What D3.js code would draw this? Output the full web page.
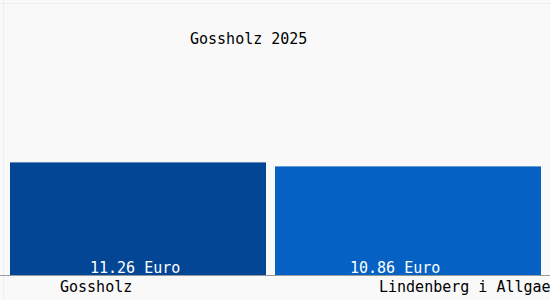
<!DOCTYPE html>
<html>
<head>
<meta charset="utf-8">
<script src="https://cdn.jsdelivr.net/npm/d3@7"></script>
<style>
  html, body { margin: 0; padding: 0; background: #ffffff; }
  svg { display: block; }
  text { font-family: "DejaVu Sans Mono", monospace; font-size: 15px; }
</style>
</head>
<body>
<svg id="chart" width="550" height="300"></svg>
<script>
const title = "Gossholz 2025";
const categories = ["Gossholz", "Lindenberg i Allgae"];
const values = [11.26, 10.86];
const valueLabels = ["11.26 Euro", "10.86 Euro"];
const colors = ["#044696", "#0561c4"];

const W = 550, H = 300;
const svg = d3.select("#chart");

svg.append("rect").attr("x", 0).attr("y", 0).attr("width", W).attr("height", H).attr("fill", "#f9f9f9");
svg.append("line").attr("x1", 3.5).attr("x2", 3.5).attr("y1", 0).attr("y2", H).attr("stroke", "#efefef");
svg.append("line").attr("x1", 0).attr("x2", W).attr("y1", 3.5).attr("y2", 3.5).attr("stroke", "#efefef");

const x = d3.scaleBand().domain(categories).range([10, 531]).paddingInner(9 / 265).paddingOuter(0);
const y = d3.scaleLinear().domain([0, 25]).range([275, 25]);
const lastExtra = 10;

svg.selectAll("rect.bar").data(categories).enter().append("rect")
  .attr("class", "bar")
  .attr("x", d => x(d))
  .attr("y", (d, i) => y(values[i]))
  .attr("width", (d, i) => x.bandwidth() + (i === categories.length - 1 ? lastExtra : 0))
  .attr("height", (d, i) => y(0) - y(values[i]))
  .attr("fill", (d, i) => colors[i]);

svg.append("line").attr("x1", 0).attr("x2", W).attr("y1", y(0) + 0.5).attr("y2", y(0) + 0.5)
  .attr("stroke", "#9a9a9a");

svg.selectAll("text.val").data(categories).enter().append("text")
  .attr("class", "val")
  .attr("x", (d, i) => x(d) + [80, 75][i])
  .attr("y", y(0) - 2)
  .attr("fill", "#ffffff")
  .text((d, i) => valueLabels[i]);

svg.selectAll("text.cat").data(categories).enter().append("text")
  .attr("class", "cat")
  .attr("x", (d, i) => x(d) + [50, 104][i])
  .attr("y", 292)
  .attr("fill", "#000000")
  .text(d => d);

svg.append("text").attr("x", 190).attr("y", 44).attr("fill", "#000000").text(title);
</script>
</body>
</html>
